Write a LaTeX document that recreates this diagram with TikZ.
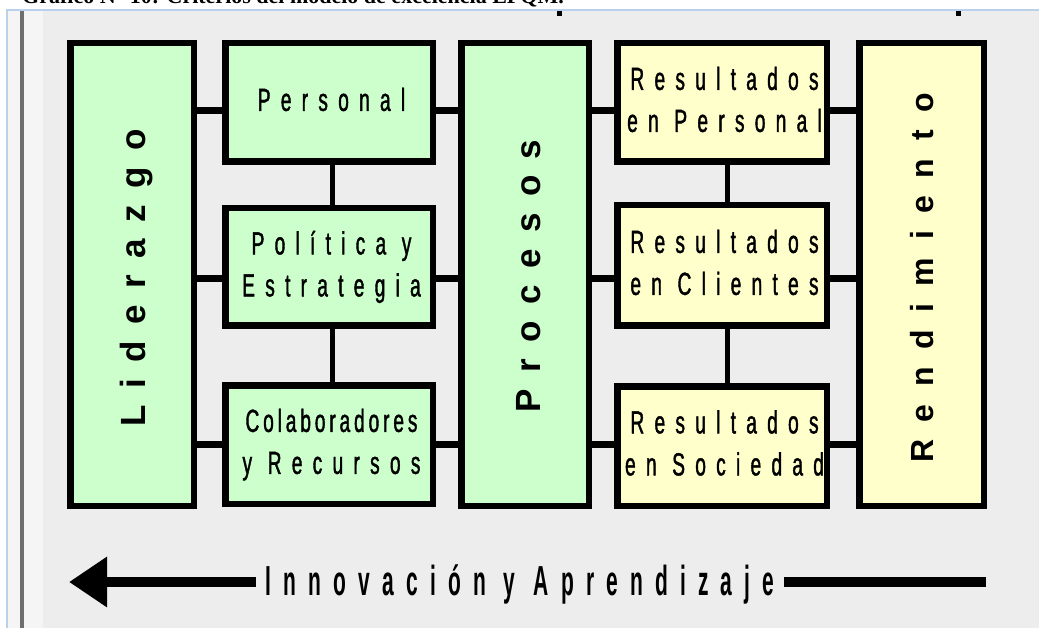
\documentclass[tikz,border=0pt]{standalone}
\usepackage{fontspec}
\usetikzlibrary{arrows.meta}
\newfontfamily\boxfont[FakeStretch=0.6,LetterSpace=32,FakeBold=1.2]{Liberation Sans}
\newfontfamily\tightfont[FakeStretch=0.6,LetterSpace=12,FakeBold=1.2]{Liberation Sans}
\newfontfamily\vfontA[LetterSpace=47]{Liberation Sans}
\newfontfamily\vfontB[LetterSpace=55]{Liberation Sans}
\newfontfamily\arrfont[FakeStretch=0.5,LetterSpace=29]{Liberation Sans}
\newfontfamily\headfont{Liberation Serif}
\definecolor{boxgreen}{HTML}{CCFFCC}
\definecolor{boxyellow}{HTML}{FFFFCC}
\definecolor{bggray}{HTML}{EDEDED}
\definecolor{stripcol}{HTML}{F5F5F5}
\definecolor{frameblue}{HTML}{B9D1EA}
\definecolor{darkline}{HTML}{6E6E6E}
\begin{document}
\begin{tikzpicture}[x=1pt,y=-1pt,
  box/.style={draw=black,line width=6.5pt,inner sep=0pt,outer sep=0pt,
    font=\boxfont\fontsize{32}{42}\selectfont},
  gbox/.style={box,fill=boxgreen},
  ybox/.style={box,fill=boxyellow},
  hcon/.style={line width=7pt},
  vcon/.style={line width=5pt},
  vtext/.style={rotate=90,inner sep=0pt,text depth=0pt,font=\bfseries}]
\useasboundingbox (0,0) rectangle (1039,628);
% window frame
\fill[white] (0,0) rectangle (1039,628);
\fill[bggray] (7,10) rectangle (1039,628);
\fill[stripcol] (8,11) rectangle (43,628);
\draw[frameblue,line width=1.5pt] (7,628) -- (7,10) -- (1039,10);
\fill[darkline] (20,11) rectangle (24,628);
\fill[black] (557,11) rectangle (562,16);
\fill[black] (956,11) rectangle (961,16);
\node[anchor=base west,inner sep=0pt,font=\headfont\bfseries\fontsize{22}{26}\selectfont] (hdr) at (22,4)
  {Gráfico N° 10: Criterios del modelo de excelencia EFQM.};
% boxes
\node[gbox,minimum width=123.5pt,minimum height=462.5pt] (lid) at (132,274.5) {};
\node[gbox,minimum width=207.5pt,minimum height=118.5pt] (pers) at (329,102.5)
  {\raisebox{-4pt}{\begin{tabular}{@{\hspace{5pt}}c@{}}Personal\end{tabular}}};
\node[gbox,minimum width=207.5pt,minimum height=117.5pt] (pol) at (329,267)
  {\raisebox{-5pt}{\begin{tabular}{@{\hspace{5pt}}c@{}}Política y\\Estrategia\end{tabular}}};
\node[gbox,minimum width=207.5pt,minimum height=118.5pt] (col) at (329,444.5)
  {\raisebox{-4pt}{\begin{tabular}{@{\hspace{5pt}}c@{}}{\tightfont Colaboradores}\\y Recursos\end{tabular}}};
\node[gbox,minimum width=127.5pt,minimum height=462.5pt] (proc) at (525,274.5) {};
\node[ybox,minimum width=209.5pt,minimum height=118.5pt] (rpers) at (722,102.5)
  {\raisebox{-4pt}{\begin{tabular}{@{\hspace{5pt}}c@{}}Resultados\\en Personal\end{tabular}}};
\node[ybox,minimum width=209.5pt,minimum height=120.5pt] (rcli) at (722,265.5)
  {\raisebox{-4pt}{\begin{tabular}{@{\hspace{5pt}}c@{}}Resultados\\en Clientes\end{tabular}}};
\node[ybox,minimum width=209.5pt,minimum height=119.5pt] (rsoc) at (722,446)
  {\raisebox{-4pt}{\begin{tabular}{@{\hspace{5pt}}c@{}}Resultados\\en Sociedad\end{tabular}}};
\node[ybox,minimum width=124.5pt,minimum height=462.5pt] (rend) at (921.5,274.5) {};
% vertical labels
\node[vtext,text height=25pt,font=\vfontA\bfseries\fontsize{35}{40}\selectfont] (lidt) at (132.5,278) {Liderazgo};
\node[vtext,text height=25pt,font=\vfontA\bfseries\fontsize{35}{40}\selectfont] (proct) at (527.5,276) {Procesos};
\node[vtext,text height=23pt,font=\vfontB\bfseries\fontsize{32}{38}\selectfont] (rendt) at (921.5,278) {Rendimiento};
% connectors
\draw[hcon] ([yshift=-8.5pt]pers.west) -- ([yshift=-8.5pt]pers.west -| lid.east);
\draw[hcon] ([yshift=-8.5pt]pers.east) -- ([yshift=-8.5pt]pers.east -| proc.west);
\draw[hcon] ([yshift=-12pt]pol.west) -- ([yshift=-12pt]pol.west -| lid.east);
\draw[hcon] ([yshift=-12pt]pol.east) -- ([yshift=-12pt]pol.east -| proc.west);
\draw[hcon] (col.west) -- (col.west -| lid.east);
\draw[hcon] (col.east) -- (col.east -| proc.west);
\draw[hcon] ([yshift=-8.5pt]rpers.west) -- ([yshift=-8.5pt]rpers.west -| proc.east);
\draw[hcon] ([yshift=-8.5pt]rpers.east) -- ([yshift=-8.5pt]rpers.east -| rend.west);
\draw[hcon] ([yshift=-13.5pt]rcli.west) -- ([yshift=-13.5pt]rcli.west -| proc.east);
\draw[hcon] ([yshift=-13.5pt]rcli.east) -- ([yshift=-13.5pt]rcli.east -| rend.west);
\draw[hcon] ([yshift=2pt]rsoc.west) -- ([yshift=2pt]rsoc.west -| proc.east);
\draw[hcon] ([yshift=2pt]rsoc.east) -- ([yshift=2pt]rsoc.east -| rend.west);
\draw[vcon] ([xshift=3pt]pers.south) -- ([xshift=3pt]pol.north);
\draw[vcon] ([xshift=3pt]pol.south) -- ([xshift=3pt]col.north);
\draw[vcon] ([xshift=5pt]rpers.south) -- ([xshift=5pt]rcli.north);
\draw[vcon] ([xshift=5pt]rcli.south) -- ([xshift=5pt]rsoc.north);
% bottom arrow
\coordinate (arrL) at (69,582);
\coordinate (arrR) at (986,582);
\node[inner xsep=9pt,inner ysep=0pt,text height=30pt,text depth=0pt,
  font=\arrfont\bfseries\fontsize{42}{46}\selectfont] (txt) at (520,580) {Innovación y Aprendizaje};
\draw[line width=10pt] (arrR) -- (txt.east |- arrR);
\draw[line width=10pt,-{Triangle[length=38pt,width=48pt]}] (txt.west |- arrL) -- (arrL);
\end{tikzpicture}
\end{document}
